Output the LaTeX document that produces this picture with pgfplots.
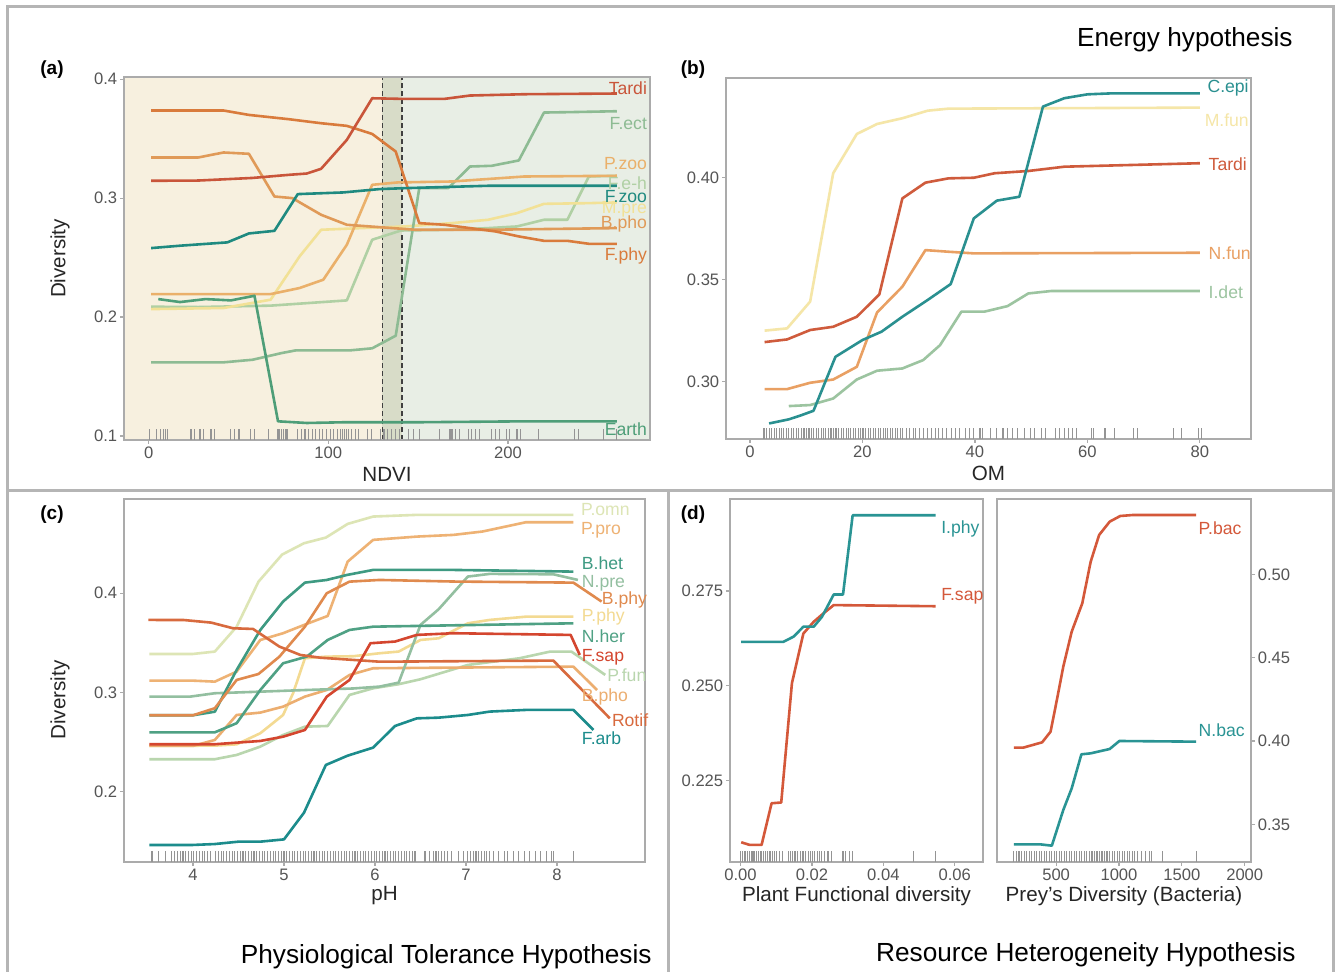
\documentclass[border=0pt]{standalone}
\usepackage{fontspec}
\setmainfont{Liberation Sans}
\usepackage{pgfplots}
\pgfplotsset{compat=1.18}

\definecolor{framec}{HTML}{B5B5B5}
\definecolor{axc}{HTML}{ABABAB}
\definecolor{tickc}{HTML}{555555}
\definecolor{bgbeige}{HTML}{F7F0DF}
\definecolor{bgband}{HTML}{D8DCC8}
\definecolor{bggreen}{HTML}{E8EEE5}
% panel a
\definecolor{aTardi}{HTML}{C9553A}
\definecolor{aFect}{HTML}{8DBB93}
\definecolor{aPzoo}{HTML}{EAB06A}
\definecolor{aFeh}{HTML}{B0D0A4}
\definecolor{aFzoo}{HTML}{1F8A80}
\definecolor{aMpre}{HTML}{F2E196}
\definecolor{aBpho}{HTML}{E09A58}
\definecolor{aFphy}{HTML}{D97B3C}
\definecolor{aEarth}{HTML}{4E9E78}
% panel b
\definecolor{bCepi}{HTML}{2A9090}
\definecolor{bMfun}{HTML}{F5E6A8}
\definecolor{bTardi}{HTML}{CF5B3C}
\definecolor{bNfun}{HTML}{E9A063}
\definecolor{bIdet}{HTML}{9CC4A0}
% panel c
\definecolor{cPomn}{HTML}{DDE5B5}
\definecolor{cPpro}{HTML}{EEB274}
\definecolor{cBhet}{HTML}{3E9A82}
\definecolor{cNpre}{HTML}{93BFA0}
\definecolor{cBphy}{HTML}{E08A4E}
\definecolor{cPphy}{HTML}{F3DA92}
\definecolor{cNher}{HTML}{4FA184}
\definecolor{cFsap}{HTML}{D4462F}
\definecolor{cPfun}{HTML}{B9D6AE}
\definecolor{cBpho}{HTML}{ECAE70}
\definecolor{cRotif}{HTML}{D86A3E}
\definecolor{cFarb}{HTML}{1C8C8C}
% panel d
\definecolor{dTeal}{HTML}{2A9494}
\definecolor{dRed}{HTML}{D4583A}

\newcommand\tickf{\fontsize{8.3}{9}\selectfont}
\newcommand\labf{\fontsize{10.3}{11}\selectfont}
\newcommand\serf{\fontsize{8.8}{9.5}\selectfont}
\newcommand\titf{\fontsize{13.1}{15}\selectfont}

\tikzset{lab/.style={anchor=west, inner sep=0pt, font=\serf}}

\pgfplotsset{
  panel/.style={scale only axis, clip=false,
    axis line style={draw=axc, line width=0.7pt},
    every tick/.style={draw=axc, line width=0.6pt},
    major tick length=2pt, tick align=outside,
    xtick pos=bottom, ytick pos=left,
    scaled x ticks=false, scaled y ticks=false,
    ticklabel style={font=\tickf, text=tickc, inner sep=1.2pt},
    every axis label/.append style={font=\labf, text=black!85},
    every axis x label/.style={at={(axis description cs:0.5,0)}, anchor=center, yshift=-17pt},
  },
  ser/.style={line width=1.3pt, no markers, line join=round},
  rug/.style={only marks, mark=|, mark size=2.7pt, forget plot,
    mark options={yshift=2.7pt, line width=0.55pt, draw=black!42}},
}

\begin{document}
\begin{tikzpicture}
\useasboundingbox (0,0) rectangle (668pt,486pt);
\fill[white] (0,0) rectangle (668pt,486pt);

% ---------------- (a) NDVI ----------------
\begin{axis}[panel, at={(62pt,266pt)}, anchor=south west, width=263pt, height=181.5pt,
  xmin=-13.7, xmax=279, ymin=0.0966, ymax=0.4019,
  xtick={0,100,200}, xticklabels={0,100,200},
  ytick={0.1,0.2,0.3,0.4}, yticklabels={0.1,0.2,0.3,0.4},
  xlabel={NDVI}, ylabel={Diversity},
  every axis y label/.style={at={(axis description cs:-0.1217,0.5)}, rotate=90, anchor=center},
  axis on top]
\addplot[draw=none, fill=bgbeige, forget plot] coordinates {(-13.7,0.0966) (130,0.0966) (130,0.4019) (-13.7,0.4019)} -- cycle;
\addplot[draw=none, fill=bgband, forget plot] coordinates {(130,0.0966) (141,0.0966) (141,0.4019) (130,0.4019)} -- cycle;
\addplot[draw=none, fill=bggreen, forget plot] coordinates {(141,0.0966) (279,0.0966) (279,0.4019) (141,0.4019)} -- cycle;
\addplot[draw=black!75, line width=0.65pt, dash pattern=on 2.5pt off 1.5pt] coordinates {(130,0.0966) (130,0.4019)};
\addplot[draw=black!75, line width=0.65pt, dash pattern=on 2.5pt off 1.5pt] coordinates {(141,0.0966) (141,0.4019)};
\addplot[rug] table[row sep=\\, y expr=0.0966] {x\\0.4\\4.4\\6.5\\8.5\\9.5\\10.5\\23.6\\25.6\\28.6\\30.6\\34.7\\36.7\\45.8\\47.8\\49.8\\50.8\\56.9\\58.9\\66.9\\72\\73\\74\\75\\76\\77\\83\\85\\87\\89\\91\\93\\95\\97\\99\\101\\103\\105\\107\\108\\109\\110\\111\\113\\115\\117\\122\\124\\129\\131\\133\\135\\137.5\\139.5\\144.6\\147.6\\150.6\\161.7\\167.7\\168.8\\170.8\\172.8\\177.8\\179.8\\181.9\\183.9\\190.9\\193\\195\\199\\201\\205\\207\\217\\237\\239\\253\\260.5\\};
\addplot[ser, color=aFeh] coordinates {(1.4,0.2087) (27.6,0.2084) (67.9,0.2096) (110.3,0.214) (124.4,0.265) (140.5,0.2728) (168.8,0.2734) (188.9,0.2748) (205,0.2762) (220,0.2818) (233,0.2818) (245,0.3182) (260.5,0.3188)};
\addplot[ser, color=aMpre] coordinates {(1.4,0.2067) (41.7,0.2076) (67.9,0.2146) (84,0.251) (96,0.2734) (118.3,0.2748) (142.5,0.2762) (168.8,0.279) (188.9,0.2818) (205,0.2874) (220,0.2952) (245,0.2958) (260.5,0.2964)};
\addplot[ser, color=aFect] coordinates {(1.4,0.1619) (41.7,0.1619) (57.9,0.1641) (74,0.1697) (82,0.172) (112.3,0.172) (124.4,0.1737) (137.5,0.1843) (150.6,0.3084) (166.7,0.3084) (178.8,0.3266) (190.9,0.3272) (206,0.3317) (220,0.372) (233,0.3723) (260.5,0.3731)};
\addplot[ser, color=aPzoo] coordinates {(1.4,0.2193) (67.9,0.2193) (84,0.2244) (97.2,0.2314) (110.3,0.2608) (124.4,0.3112) (138.5,0.3132) (168.8,0.314) (209,0.3182) (260.5,0.3188)};
\addplot[ser, color=aBpho] coordinates {(1.4,0.3342) (27.6,0.3342) (41.7,0.3384) (55.8,0.3373) (70,0.3014) (80,0.3) (96,0.286) (110.3,0.2776) (148.6,0.2734) (188.9,0.2734) (260.5,0.2748)};
\addplot[ser, color=aEarth] coordinates {(5.4,0.2151) (17.5,0.2126) (31.7,0.2151) (45.8,0.214) (58.9,0.2179) (72,0.1123) (88,0.1109) (108.3,0.1115) (148.6,0.1115) (209,0.1123) (260.5,0.1123)};
\addplot[ser, color=aFphy] coordinates {(1.4,0.3737) (41.7,0.3737) (55.8,0.37) (78,0.3664) (96,0.363) (110.3,0.3608) (124.4,0.354) (137.5,0.3392) (150.6,0.279) (164.7,0.2776) (178.8,0.2748) (193,0.272) (206,0.2678) (220,0.2641) (233,0.2641) (245,0.2616) (260.5,0.2616)};
\addplot[ser, color=aFzoo] coordinates {(1.4,0.258) (17.5,0.26) (43.8,0.2628) (55.8,0.2703) (70,0.2725) (83,0.3034) (108.3,0.3048) (128.4,0.3076) (142.5,0.3084) (188.9,0.3104) (260.5,0.3104)};
\addplot[ser, color=aTardi] coordinates {(1.4,0.3146) (27.6,0.3148) (57.9,0.317) (78,0.3196) (88,0.3207) (96,0.3247) (110.3,0.349) (124.4,0.384) (140.5,0.3835) (164.7,0.3835) (178.8,0.3863) (209,0.3874) (260.5,0.388)};
\node[lab, anchor=east, text=aTardi] at (axis cs:277.5,0.3924) {Tardi};
\node[lab, anchor=east, text=aFect] at (axis cs:277.5,0.363) {F.ect};
\node[lab, anchor=east, text=aPzoo] at (axis cs:277.5,0.3294) {P.zoo};
\node[lab, anchor=east, text=aFeh] at (axis cs:277.5,0.3125) {F.e-h};
\node[lab, anchor=east, text=aFzoo] at (axis cs:277.5,0.3014) {F.zoo};
\node[lab, anchor=east, text=aMpre] at (axis cs:277.5,0.2905) {M.pre};
\node[lab, anchor=east, text=aBpho] at (axis cs:277.5,0.2784) {B.pho};
\node[lab, anchor=east, text=aFphy] at (axis cs:277.5,0.251) {F.phy};
\node[lab, anchor=east, text=aEarth] at (axis cs:277.5,0.1053) {Earth};
\end{axis}

% ---------------- (b) OM ----------------
\begin{axis}[panel, at={(363pt,266.5pt)}, anchor=south west, width=262.5pt, height=180.5pt,
  xmin=-4.26, xmax=89.1, ymin=0.272, ymax=0.4486,
  xtick={0,20,40,60,80}, xticklabels={0,20,40,60,80},
  ytick={0.30,0.35,0.40}, yticklabels={0.30,0.35,0.40},
  xlabel={OM}]
\addplot[rug] table[row sep=\\, y expr=0.272] {x\\2.5\\3\\3.4\\3.8\\4.3\\4.7\\5.2\\5.6\\6\\6.5\\6.9\\7.4\\7.8\\8.3\\8.7\\9.1\\9.6\\10\\10.5\\10.9\\11.3\\11.8\\12.2\\12.7\\13.1\\13.5\\14\\14.4\\14.9\\15.3\\15.7\\16.2\\16.6\\17.1\\17.5\\17.9\\18.4\\18.8\\19.3\\19.7\\20.1\\20.6\\21\\21.5\\21.9\\22.3\\22.8\\23.2\\23.7\\24.1\\24.5\\25\\25.4\\25.9\\26.3\\26.7\\27.2\\27.8\\28.4\\29\\29.5\\30.1\\30.9\\31.6\\32.3\\33\\33.6\\34.3\\35\\35.8\\36.5\\37.2\\38.3\\39.1\\39.8\\40.9\\41.4\\42.8\\43.9\\45\\45.8\\46.7\\47.6\\48.8\\49.9\\50.6\\51.8\\52.5\\54.4\\55.1\\55.9\\56.6\\57.4\\58.1\\60.7\\61.1\\63\\63.3\\64.8\\68.2\\68.9\\75.3\\76.8\\79.8\\80.3\\};
\addplot[ser, color=bMfun] coordinates {(2.6,0.325) (6.6,0.3261) (10.7,0.3392) (14.8,0.402) (19,0.4212) (22.6,0.4261) (27.1,0.4289) (31.6,0.4326) (35.3,0.4336) (80,0.4341)};
\addplot[ser, color=bIdet] coordinates {(6.9,0.2881) (10.7,0.2886) (14.8,0.2918) (19,0.3011) (22.6,0.3054) (27.1,0.3065) (30.8,0.3106) (33.8,0.3179) (37.6,0.3343) (41.7,0.3343) (45.8,0.337) (49.5,0.3432) (53.6,0.3444) (80,0.3444)};
\addplot[ser, color=bNfun] coordinates {(2.6,0.2964) (6.6,0.2964) (10.7,0.2995) (14.8,0.3011) (19,0.3073) (22.6,0.3339) (27.1,0.3465) (31.2,0.3644) (35.3,0.3636) (39.8,0.3628) (80,0.3631)};
\addplot[ser, color=bTardi] coordinates {(2.6,0.3194) (6.6,0.3207) (10.7,0.3253) (14.8,0.3269) (19,0.3318) (23,0.3427) (27.1,0.3897) (31.2,0.3974) (35.3,0.3995) (39.8,0.3998) (43.5,0.402) (49.5,0.4031) (55.9,0.4052) (80,0.4069)};
\addplot[ser, color=bCepi] coordinates {(3.4,0.2796) (6.9,0.2816) (9.2,0.2837) (11.3,0.2858) (15.2,0.3122) (20,0.3204) (23.4,0.3245) (27.1,0.3318) (31.6,0.34) (35.7,0.3478) (39.8,0.3799) (43.9,0.3886) (47.9,0.3905) (52.1,0.4346) (55.9,0.4387) (60,0.4406) (64.5,0.4411) (80,0.4411)};
\node[lab, text=bCepi] at (axis cs:81.3,0.4436) {C.epi};
\node[lab, text=bMfun] at (axis cs:80.8,0.428) {M.fun};
\node[lab, text=bTardi] at (axis cs:81.5,0.4064) {Tardi};
\node[lab, text=bNfun] at (axis cs:81.5,0.3628) {N.fun};
\node[lab, text=bIdet] at (axis cs:81.5,0.3437) {I.det};
\end{axis}

% ---------------- (c) pH ----------------
\begin{axis}[panel, at={(62pt,55pt)}, anchor=south west, width=260.5pt, height=181.5pt,
  xmin=3.242, xmax=8.967, ymin=0.1291, ymax=0.495,
  xtick={4,5,6,7,8}, xticklabels={4,5,6,7,8},
  ytick={0.2,0.3,0.4}, yticklabels={0.2,0.3,0.4},
  xlabel={pH}, ylabel={Diversity},
  every axis y label/.style={at={(axis description cs:-0.1228,0.446)}, rotate=90, anchor=center}]
\addplot[rug] table[row sep=\\, y expr=0.1291] {x\\3.55\\3.62\\3.7\\3.76\\3.8\\3.83\\3.86\\3.89\\3.92\\3.95\\3.98\\4.01\\4.04\\4.07\\4.1\\4.13\\4.16\\4.19\\4.25\\4.28\\4.31\\4.34\\4.37\\4.4\\4.43\\4.46\\4.49\\4.52\\4.55\\4.58\\4.61\\4.64\\4.67\\4.7\\4.73\\4.76\\4.79\\4.82\\4.85\\4.88\\4.91\\4.94\\4.97\\5\\5.03\\5.06\\5.09\\5.12\\5.15\\5.18\\5.21\\5.24\\5.27\\5.3\\5.33\\5.36\\5.39\\5.42\\5.45\\5.48\\5.51\\5.54\\5.57\\5.6\\5.63\\5.66\\5.69\\5.72\\5.75\\5.78\\5.81\\5.84\\5.87\\5.9\\5.93\\5.96\\5.99\\6.02\\6.05\\6.08\\6.11\\6.14\\6.17\\6.2\\6.23\\6.26\\6.29\\6.32\\6.35\\6.38\\6.41\\6.44\\6.55\\6.6\\6.64\\6.67\\6.7\\6.73\\6.76\\6.8\\6.84\\6.92\\6.97\\7.02\\7.05\\7.08\\7.11\\7.14\\7.17\\7.2\\7.23\\7.26\\7.3\\7.36\\7.42\\7.46\\7.52\\7.58\\7.64\\7.7\\7.76\\7.82\\7.88\\7.94\\7.96\\8.18\\};
\addplot[ser, color=cPomn] coordinates {(3.52,0.3388) (4.0,0.3388) (4.24,0.3412) (4.48,0.3663) (4.72,0.4117) (4.98,0.439) (5.22,0.4504) (5.46,0.4561) (5.7,0.4699) (5.98,0.4773) (6.46,0.479) (8.18,0.479)};
\addplot[ser, color=cPphy] coordinates {(3.52,0.2461) (4.24,0.2464) (4.48,0.2477) (4.74,0.2589) (4.99,0.2773) (5.10,0.2992) (5.23,0.3345) (5.47,0.3361) (5.76,0.3365) (6.05,0.3395) (6.26,0.3412) (6.5,0.3529) (6.7,0.3546) (7.02,0.3697) (7.26,0.3731) (7.66,0.3764) (8.18,0.3764)};
\addplot[ser, color=cPfun] coordinates {(3.52,0.2327) (4.24,0.2327) (4.48,0.237) (4.74,0.2454) (4.99,0.2571) (5.23,0.2655) (5.48,0.2662) (5.72,0.2975) (5.98,0.3042) (6.26,0.3083) (6.5,0.3133) (7.02,0.3277) (7.59,0.3345) (7.92,0.3411) (8.16,0.3411) (8.53,0.3177)};
\addplot[ser, color=cPpro] coordinates {(3.52,0.3119) (4.0,0.3119) (4.24,0.3109) (4.48,0.321) (4.74,0.3529) (4.99,0.3597) (5.25,0.3691) (5.48,0.3771) (5.7,0.4319) (5.98,0.4538) (6.46,0.4571) (6.86,0.4588) (7.18,0.4622) (7.66,0.4716) (8.18,0.4716)};
\addplot[ser, color=cBpho] coordinates {(3.52,0.2461) (4.0,0.2461) (4.24,0.2521) (4.48,0.2773) (4.74,0.2797) (4.99,0.2857) (5.23,0.2958) (5.47,0.3025) (5.72,0.3176) (5.98,0.3244) (8.18,0.326) (8.44,0.3025)};
\addplot[ser, color=cNpre] coordinates {(3.52,0.2958) (3.97,0.2958) (4.24,0.2992) (4.74,0.3008) (5.25,0.3025) (5.76,0.304) (6.05,0.3059) (6.26,0.3099) (6.5,0.3681) (6.7,0.3839) (7.02,0.4168) (7.26,0.4195) (7.96,0.4191) (8.23,0.4134)};
\addplot[ser, color=cNher] coordinates {(3.52,0.2598) (4.24,0.2598) (4.48,0.269) (4.74,0.3025) (4.99,0.3294) (5.25,0.3361) (5.48,0.3529) (5.72,0.363) (5.98,0.3663) (8.18,0.3697)};
\addplot[ser, color=cBhet] coordinates {(3.52,0.277) (4.0,0.277) (4.24,0.2806) (4.48,0.3227) (4.74,0.363) (4.99,0.3916) (5.23,0.4107) (5.47,0.4134) (5.69,0.4184) (5.98,0.4235) (6.86,0.4235) (7.66,0.4225) (8.18,0.4218)};
\addplot[ser, color=cBphy] coordinates {(3.52,0.277) (4.0,0.277) (4.24,0.2841) (4.48,0.3126) (4.72,0.3186) (4.95,0.3361) (5.23,0.3663) (5.47,0.4) (5.72,0.4117) (6.05,0.4134) (6.86,0.4118) (8.18,0.4107) (8.49,0.3916)};
\addplot[ser, color=cRotif] coordinates {(3.51,0.3731) (3.9,0.373) (4.2,0.3704) (4.44,0.3647) (4.66,0.364) (4.95,0.3462) (5.18,0.3378) (5.4,0.335) (5.76,0.3328) (6.05,0.331) (7.96,0.3321) (8.58,0.274)};
\addplot[ser, color=cFsap] coordinates {(3.52,0.2478) (4.24,0.2478) (4.48,0.2494) (4.74,0.2511) (4.99,0.2554) (5.23,0.2622) (5.47,0.2958) (5.72,0.3126) (5.95,0.3496) (6.22,0.3513) (6.46,0.358) (6.86,0.3597) (8.15,0.358) (8.25,0.3378)};
\addplot[ser, color=cFarb] coordinates {(3.52,0.1462) (3.98,0.1462) (4.24,0.1472) (4.5,0.1496) (4.74,0.1496) (5,0.1519) (5.22,0.1788) (5.46,0.2269) (5.7,0.2363) (5.98,0.2444) (6.22,0.2662) (6.46,0.2739) (6.7,0.2746) (7.02,0.2773) (7.26,0.2807) (7.66,0.2824) (8.18,0.2824) (8.40,0.2622)};
\node[lab, text=cPomn] at (axis cs:8.26,0.484) {P.omn};
\node[lab, text=cPpro] at (axis cs:8.26,0.4632) {P.pro};
\node[lab, text=cBhet] at (axis cs:8.27,0.4302) {B.het};
\node[lab, text=cNpre] at (axis cs:8.27,0.41) {N.pre};
\node[lab, text=cBphy] at (axis cs:8.49,0.3932) {B.phy};
\node[lab, text=cPphy] at (axis cs:8.27,0.3764) {P.phy};
\node[lab, text=cNher] at (axis cs:8.27,0.3563) {N.her};
\node[lab, text=cFsap] at (axis cs:8.27,0.3355) {F.sap};
\node[lab, text=cPfun] at (axis cs:8.55,0.3177) {P.fun};
\node[lab, text=cBpho] at (axis cs:8.27,0.2958) {B.pho};
\node[lab, text=cRotif] at (axis cs:8.60,0.2723) {Rotif};
\node[lab, text=cFarb] at (axis cs:8.27,0.2538) {F.arb};
\end{axis}

% ---------------- (d) left ----------------
\begin{axis}[panel, at={(365pt,55pt)}, anchor=south west, width=126.5pt, height=181.5pt,
  xmin=-0.00294, xmax=0.0679, ymin=0.2035, ymax=0.2993,
  xtick={0,0.02,0.04,0.06}, xticklabels={0.00,0.02,0.04,0.06},
  ytick={0.225,0.25,0.275}, yticklabels={0.225,0.250,0.275},
  xlabel={Plant Functional diversity}]
\addplot[rug] table[row sep=\\, y expr=0.2035] {x\\0\\0.0005\\0.001\\0.0015\\0.002\\0.0025\\0.003\\0.0035\\0.004\\0.0045\\0.005\\0.0055\\0.006\\0.0065\\0.007\\0.0075\\0.008\\0.0085\\0.009\\0.0095\\0.0102\\0.011\\0.0118\\0.0135\\0.014\\0.0145\\0.015\\0.0155\\0.016\\0.0167\\0.0175\\0.0182\\0.019\\0.0196\\0.0202\\0.0208\\0.0215\\0.022\\0.0228\\0.0236\\0.0245\\0.0256\\0.0287\\0.0295\\0.0305\\0.0314\\0.0485\\0.0546\\};
\addplot[ser, color=dRed] coordinates {(0.0002,0.2087) (0.0026,0.208) (0.0059,0.208) (0.0087,0.219) (0.0114,0.2192) (0.0144,0.2507) (0.0176,0.2638) (0.0205,0.2669) (0.0232,0.2691) (0.0261,0.2713) (0.0546,0.271)};
\addplot[ser, color=dTeal] coordinates {(0.0002,0.2616) (0.012,0.2616) (0.0149,0.263) (0.0176,0.2656) (0.0205,0.2656) (0.0228,0.2682) (0.0261,0.2741) (0.0287,0.2741) (0.0314,0.295) (0.0546,0.295)};
\node[lab, text=dTeal] at (axis cs:0.0561,0.2915) {I.phy};
\node[lab, text=dRed] at (axis cs:0.0561,0.2737) {F.sap};
\end{axis}

% ---------------- (d) right ----------------
\begin{axis}[panel, at={(498.5pt,55pt)}, anchor=south west, width=127pt, height=181.5pt,
  xmin=30, xmax=2050, ymin=0.3274, ymax=0.5452,
  ytick pos=right, yticklabel pos=right,
  xtick={500,1000,1500,2000}, xticklabels={500,1000,1500,2000},
  ytick={0.35,0.40,0.45,0.50}, yticklabels={0.35,0.40,0.45,0.50},
  xlabel={Prey's Diversity (Bacteria)}]
\addplot[rug] table[row sep=\\, y expr=0.3274] {x\\164\\185\\205\\226\\246\\265\\285\\305\\325\\345\\365\\385\\405\\425\\445\\465\\485\\505\\525\\545\\565\\585\\605\\625\\645\\665\\685\\705\\725\\745\\765\\785\\805\\825\\845\\865\\885\\905\\925\\945\\965\\985\\1005\\1025\\1045\\1065\\1085\\1105\\1125\\1150\\1180\\1210\\1240\\1262\\1346\\1614\\};
\addplot[ser, color=dTeal] coordinates {(164,0.338) (372,0.338) (466,0.3372) (557,0.3586) (624,0.3716) (701,0.392) (775,0.3926) (926,0.3952) (1003,0.4) (1614,0.3996)};
\addplot[ser, color=dRed] coordinates {(164,0.396) (238,0.396) (389,0.3992) (456,0.4056) (507,0.425) (557,0.4446) (624,0.4656) (708,0.4826) (775,0.5076) (842,0.5236) (926,0.5316) (1010,0.535) (1111,0.5356) (1614,0.5356)};
\node[lab, text=dRed] at (axis cs:1631,0.5276) {P.bac};
\node[lab, text=dTeal] at (axis cs:1631,0.4062) {N.bac};
\end{axis}

% ---------------- frames and titles ----------------
\draw[framec, line width=1.5pt] (3.65pt,0) -- (3.65pt,482.65pt) -- (666.5pt,482.65pt) -- (666.5pt,0);
\draw[framec, line width=1.5pt] (3.65pt,240.5pt) -- (666.5pt,240.5pt);
\draw[framec, line width=1.5pt] (334pt,240.5pt) -- (334pt,0);

\node[anchor=east, font=\titf, inner sep=0pt] at (646.5pt,466pt) {Energy hypothesis};
\node[font=\bfseries\fontsize{9.5}{10}\selectfont] at (26pt,451pt) {(a)};
\node[font=\bfseries\fontsize{9.5}{10}\selectfont] at (346.5pt,451pt) {(b)};
\node[font=\bfseries\fontsize{9.5}{10}\selectfont] at (26pt,228.5pt) {(c)};
\node[font=\bfseries\fontsize{9.5}{10}\selectfont] at (346.5pt,228.5pt) {(d)};
\node[anchor=east, font=\titf, inner sep=0pt] at (326pt,7.5pt) {Physiological Tolerance Hypothesis};
\node[anchor=east, font=\titf, inner sep=0pt] at (648pt,8.5pt) {Resource Heterogeneity Hypothesis};
\end{tikzpicture}
\end{document}
